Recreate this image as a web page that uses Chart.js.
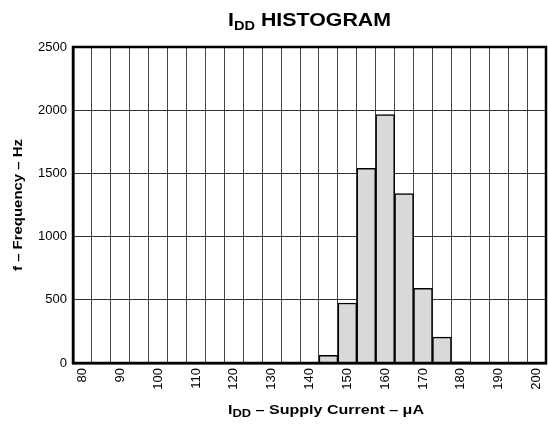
<!DOCTYPE html>
<html>
<head>
<meta charset="utf-8">
<script src="https://cdn.jsdelivr.net/npm/chart.js@4/dist/chart.umd.min.js"></script>
<style>
  html, body { margin: 0; padding: 0; background: #fff; }
  #wrap { width: 548px; height: 424px; position: relative; }
</style>
</head>
<body>
<div id="wrap"><canvas id="histChart" width="548" height="424"></canvas></div>
<script>
// bin centres in uA (5 uA wide bins)
const currentBins = ['80', '85', '90', '95', '100', '105', '110', '115', '120', '125', '130', '135', '140',
  '145', '150', '155', '160', '165', '170', '175', '180', '185', '190', '195', '200'];
// counts per bin
const binCounts = [0, 0, 0, 0, 0, 0, 0, 0, 0, 0, 0, 0, 0,
  60, 475, 1540, 1965, 1340, 590, 205, 10, 0, 0, 0, 0];
const yTicks = [0, 500, 1000, 1500, 2000, 2500];

const FONT = '"Liberation Sans", Arial, Helvetica, sans-serif';

// draws text pieces (some subscripted) centred at cx, stretched to a given width
function drawRich(ctx, parts, cx, cy, width, angle) {
  ctx.save();
  let natural = 0;
  parts.forEach((p) => {
    ctx.font = 'bold ' + p.size + 'px ' + FONT;
    natural += ctx.measureText(p.text).width;
  });
  ctx.translate(cx, cy);
  if (angle) ctx.rotate(angle);
  ctx.scale(width / natural, 1);
  ctx.fillStyle = '#000';
  ctx.textBaseline = 'alphabetic';
  ctx.textAlign = 'left';
  let x = -natural / 2;
  parts.forEach((p) => {
    ctx.font = 'bold ' + p.size + 'px ' + FONT;
    ctx.fillText(p.text, x, p.dy || 0);
    x += ctx.measureText(p.text).width;
  });
  ctx.restore();
}

const framePlugin = {
  id: 'frameAndTitles',
  afterDraw(chart) {
    const ctx = chart.ctx;
    const a = chart.chartArea;
    ctx.save();
    ctx.strokeStyle = '#000';
    ctx.lineWidth = 2.5;
    ctx.strokeRect(a.left, a.top, a.right - a.left, a.bottom - a.top);
    ctx.restore();

    const mid = (a.left + a.right) / 2;
    drawRich(ctx, [
      { text: 'I', size: 19 },
      { text: 'DD', size: 13, dy: 4 },
      { text: ' HISTOGRAM', size: 19 }
    ], mid, 26, 163);

    drawRich(ctx, [
      { text: 'I', size: 13 },
      { text: 'DD', size: 10.5, dy: 3 },
      { text: ' – Supply Current – μA', size: 13 }
    ], 326, 414, 196);

    drawRich(ctx, [
      { text: 'f – Frequency – Hz', size: 13 }
    ], 22, (a.top + a.bottom) / 2, 132, -Math.PI / 2);
  }
};

const ctx = document.getElementById('histChart').getContext('2d');
new Chart(ctx, {
  type: 'bar',
  data: {
    labels: currentBins,
    datasets: [{
      data: binCounts,
      backgroundColor: '#d9d9d9',
      borderColor: '#000',
      borderWidth: 1.5,
      categoryPercentage: 1,
      barPercentage: 1
    }]
  },
  options: {
    responsive: false,
    animation: false,
    layout: { padding: { left: 0, right: 2, top: 47, bottom: 0 } },
    plugins: {
      legend: { display: false },
      tooltip: { enabled: false }
    },
    scales: {
      x: {
        type: 'category',
        offset: true,
        grid: { offset: true, color: '#444', lineWidth: 1, drawTicks: false },
        border: { color: '#000', width: 2.5 },
        ticks: {
          autoSkip: false,
          maxRotation: 90,
          minRotation: 90,
          padding: 5,
          color: '#000',
          font: { family: FONT, size: 13 },
          callback: function (val, i) { return i % 2 === 0 ? this.getLabelForValue(val) : ''; }
        },
        afterFit(scale) {
          scale.height = 61;
          scale.paddingLeft = 0;
          scale.paddingRight = 0;
        }
      },
      y: {
        min: 0,
        max: 2500,
        afterBuildTicks(scale) { scale.ticks = yTicks.map((v) => ({ value: v })); },
        grid: { color: '#333', lineWidth: 1, drawTicks: false },
        border: { color: '#000', width: 2.5 },
        ticks: {
          padding: 6,
          color: '#000',
          font: { family: FONT, size: 13 },
          callback: (v) => String(v)
        },
        afterFit(scale) {
          scale.width = 73;
          scale.paddingTop = 0;
          scale.paddingBottom = 0;
        }
      }
    }
  },
  plugins: [framePlugin]
});
</script>
</body>
</html>
